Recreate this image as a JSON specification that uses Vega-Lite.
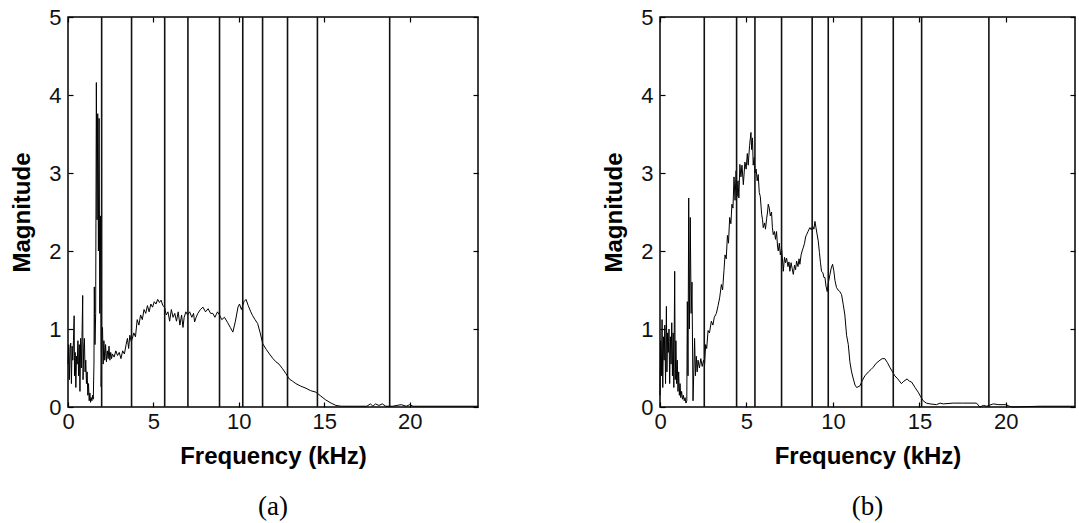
{
  "$schema": "https://vega.github.io/schema/vega-lite/v6.json",
  "background": "white",
  "padding": {"left": 10, "top": 5, "right": 4, "bottom": 0},
  "spacing": 121,
  "config": {
    "view": {"stroke": "black", "strokeWidth": 1.5},
    "axis": {
      "grid": false,
      "domain": false,
      "tickColor": "black",
      "tickWidth": 1.2,
      "tickSize": -5,
      "labelFont": "Liberation Sans",
      "labelFontSize": 22,
      "labelColor": "#111",
      "labelFlush": false,
      "labelOverlap": false,
      "titleFont": "Liberation Sans",
      "titleFontSize": 24,
      "titleFontWeight": "bold",
      "titleColor": "black"
    },
    "title": {"font": "Liberation Serif", "fontSize": 27, "fontWeight": "normal", "color": "black", "orient": "bottom", "offset": 26}
  },
  "datasets": {
    "specA": [
      {"f":0.00,"m":0.55},{"f":0.04,"m":0.80},{"f":0.08,"m":0.35},{"f":0.12,"m":0.75},{"f":0.16,"m":0.82},{"f":0.20,"m":0.30},{"f":0.24,"m":0.78},{"f":0.28,"m":0.60},{"f":0.32,"m":0.85},{"f":0.36,"m":1.17},{"f":0.38,"m":0.40},{"f":0.42,"m":0.70},{"f":0.46,"m":0.25},{"f":0.50,"m":0.65},{"f":0.54,"m":0.55},{"f":0.58,"m":0.85},{"f":0.62,"m":0.40},{"f":0.66,"m":0.80},{"f":0.70,"m":0.20},{"f":0.74,"m":0.88},{"f":0.78,"m":0.50},{"f":0.82,"m":0.90},{"f":0.86,"m":1.43},{"f":0.88,"m":0.35},{"f":0.92,"m":0.75},{"f":0.96,"m":0.88},{"f":1.00,"m":0.45},{"f":1.04,"m":0.60},{"f":1.08,"m":0.30},{"f":1.12,"m":0.45},{"f":1.16,"m":0.15},{"f":1.20,"m":0.30},{"f":1.24,"m":0.08},{"f":1.28,"m":0.18},{"f":1.32,"m":0.06},{"f":1.36,"m":0.12},{"f":1.40,"m":0.08},{"f":1.44,"m":0.15},{"f":1.48,"m":0.10},{"f":1.52,"m":0.55},{"f":1.54,"m":1.54},{"f":1.58,"m":0.80},{"f":1.62,"m":1.20},{"f":1.66,"m":4.16},{"f":1.70,"m":2.40},{"f":1.74,"m":3.76},{"f":1.78,"m":2.00},{"f":1.82,"m":3.70},{"f":1.86,"m":1.20},{"f":1.90,"m":2.45},{"f":1.94,"m":0.26},{"f":1.98,"m":0.90},{"f":2.02,"m":1.02},{"f":2.06,"m":0.55},{"f":2.10,"m":0.85},{"f":2.15,"m":0.60},{"f":2.20,"m":0.80},{"f":2.25,"m":0.58},{"f":2.30,"m":0.72},{"f":2.35,"m":0.62},{"f":2.40,"m":0.78},{"f":2.45,"m":0.60},{"f":2.50,"m":0.70},{"f":2.55,"m":0.62},{"f":2.60,"m":0.68},{"f":2.70,"m":0.64},{"f":2.80,"m":0.72},{"f":2.90,"m":0.66},{"f":3.00,"m":0.70},{"f":3.10,"m":0.62},{"f":3.20,"m":0.72},{"f":3.30,"m":0.68},{"f":3.40,"m":0.80},{"f":3.48,"m":0.88},{"f":3.55,"m":0.75},{"f":3.62,"m":0.92},{"f":3.70,"m":0.84},{"f":3.77,"m":0.88},{"f":3.85,"m":0.95},{"f":3.95,"m":0.90},{"f":4.05,"m":1.12},{"f":4.15,"m":1.05},{"f":4.25,"m":1.18},{"f":4.35,"m":1.12},{"f":4.45,"m":1.25},{"f":4.55,"m":1.20},{"f":4.65,"m":1.30},{"f":4.75,"m":1.22},{"f":4.85,"m":1.32},{"f":4.95,"m":1.28},{"f":5.05,"m":1.35},{"f":5.15,"m":1.32},{"f":5.25,"m":1.38},{"f":5.35,"m":1.34},{"f":5.45,"m":1.37},{"f":5.55,"m":1.30},{"f":5.65,"m":1.28},{"f":5.75,"m":1.18},{"f":5.85,"m":1.22},{"f":5.95,"m":1.10},{"f":6.05,"m":1.25},{"f":6.15,"m":1.15},{"f":6.25,"m":1.20},{"f":6.35,"m":1.10},{"f":6.45,"m":1.22},{"f":6.55,"m":1.05},{"f":6.65,"m":1.18},{"f":6.73,"m":1.02},{"f":6.80,"m":1.15},{"f":6.90,"m":1.22},{"f":7.00,"m":1.18},{"f":7.12,"m":1.22},{"f":7.25,"m":1.15},{"f":7.35,"m":1.20},{"f":7.41,"m":1.09},{"f":7.50,"m":1.15},{"f":7.60,"m":1.20},{"f":7.75,"m":1.25},{"f":7.90,"m":1.28},{"f":8.05,"m":1.22},{"f":8.20,"m":1.26},{"f":8.35,"m":1.20},{"f":8.48,"m":1.20},{"f":8.60,"m":1.15},{"f":8.75,"m":1.22},{"f":8.87,"m":1.18},{"f":9.00,"m":1.12},{"f":9.16,"m":1.15},{"f":9.35,"m":1.08},{"f":9.50,"m":1.02},{"f":9.65,"m":0.96},{"f":9.80,"m":1.10},{"f":9.95,"m":1.28},{"f":10.04,"m":1.32},{"f":10.15,"m":1.25},{"f":10.30,"m":1.35},{"f":10.42,"m":1.38},{"f":10.55,"m":1.30},{"f":10.70,"m":1.22},{"f":10.81,"m":1.17},{"f":10.95,"m":1.12},{"f":11.10,"m":1.07},{"f":11.25,"m":0.95},{"f":11.40,"m":0.81},{"f":11.60,"m":0.74},{"f":11.79,"m":0.68},{"f":12.00,"m":0.62},{"f":12.17,"m":0.58},{"f":12.35,"m":0.55},{"f":12.56,"m":0.49},{"f":12.75,"m":0.43},{"f":12.95,"m":0.36},{"f":13.15,"m":0.33},{"f":13.34,"m":0.30},{"f":13.60,"m":0.27},{"f":13.93,"m":0.24},{"f":14.20,"m":0.21},{"f":14.51,"m":0.19},{"f":14.80,"m":0.14},{"f":15.09,"m":0.09},{"f":15.40,"m":0.05},{"f":15.68,"m":0.02},{"f":16.00,"m":0.01},{"f":16.45,"m":0.01},{"f":17.00,"m":0.01},{"f":17.50,"m":0.01},{"f":17.70,"m":0.04},{"f":17.85,"m":0.01},{"f":18.00,"m":0.04},{"f":18.20,"m":0.02},{"f":18.40,"m":0.04},{"f":18.60,"m":0.01},{"f":19.00,"m":0.01},{"f":19.50,"m":0.03},{"f":19.80,"m":0.01},{"f":20.00,"m":0.03},{"f":20.20,"m":0.01},{"f":22.00,"m":0.01},{"f":24.00,"m":0.01}
    ],
    "specB": [
      {"f":0.00,"m":0.15},{"f":0.04,"m":0.85},{"f":0.08,"m":0.40},{"f":0.12,"m":1.12},{"f":0.16,"m":0.25},{"f":0.20,"m":0.90},{"f":0.24,"m":0.60},{"f":0.28,"m":1.05},{"f":0.32,"m":0.30},{"f":0.37,"m":1.29},{"f":0.40,"m":0.45},{"f":0.44,"m":0.95},{"f":0.48,"m":0.70},{"f":0.52,"m":1.00},{"f":0.56,"m":0.30},{"f":0.60,"m":0.90},{"f":0.64,"m":0.55},{"f":0.68,"m":1.08},{"f":0.72,"m":0.40},{"f":0.76,"m":0.95},{"f":0.80,"m":0.25},{"f":0.85,"m":1.74},{"f":0.88,"m":0.35},{"f":0.92,"m":0.85},{"f":0.96,"m":0.30},{"f":1.00,"m":0.60},{"f":1.04,"m":0.20},{"f":1.08,"m":0.45},{"f":1.12,"m":0.15},{"f":1.16,"m":0.30},{"f":1.20,"m":0.12},{"f":1.25,"m":0.20},{"f":1.30,"m":0.10},{"f":1.35,"m":0.15},{"f":1.40,"m":0.08},{"f":1.45,"m":0.12},{"f":1.50,"m":0.05},{"f":1.55,"m":0.08},{"f":1.58,"m":1.35},{"f":1.62,"m":0.40},{"f":1.66,"m":2.68},{"f":1.70,"m":1.00},{"f":1.75,"m":2.43},{"f":1.80,"m":1.20},{"f":1.85,"m":1.60},{"f":1.91,"m":0.08},{"f":1.96,"m":0.50},{"f":2.00,"m":0.88},{"f":2.05,"m":0.40},{"f":2.10,"m":0.65},{"f":2.15,"m":0.45},{"f":2.20,"m":0.60},{"f":2.28,"m":0.50},{"f":2.36,"m":0.62},{"f":2.44,"m":0.52},{"f":2.52,"m":0.60},{"f":2.58,"m":0.55},{"f":2.64,"m":0.80},{"f":2.70,"m":0.75},{"f":2.78,"m":0.98},{"f":2.86,"m":0.95},{"f":2.97,"m":1.10},{"f":3.06,"m":1.05},{"f":3.14,"m":1.15},{"f":3.26,"m":1.20},{"f":3.36,"m":1.30},{"f":3.45,"m":1.40},{"f":3.55,"m":1.57},{"f":3.62,"m":1.50},{"f":3.70,"m":1.75},{"f":3.76,"m":1.95},{"f":3.83,"m":1.90},{"f":3.90,"m":2.20},{"f":3.96,"m":2.10},{"f":4.03,"m":2.43},{"f":4.10,"m":2.35},{"f":4.16,"m":2.60},{"f":4.22,"m":2.55},{"f":4.28,"m":2.95},{"f":4.34,"m":2.65},{"f":4.40,"m":3.03},{"f":4.46,"m":2.70},{"f":4.51,"m":2.90},{"f":4.56,"m":2.68},{"f":4.62,"m":3.11},{"f":4.68,"m":2.95},{"f":4.74,"m":3.10},{"f":4.82,"m":2.85},{"f":4.91,"m":3.14},{"f":4.98,"m":3.05},{"f":5.05,"m":3.25},{"f":5.10,"m":3.10},{"f":5.18,"m":3.35},{"f":5.26,"m":3.52},{"f":5.30,"m":3.30},{"f":5.35,"m":3.45},{"f":5.39,"m":3.10},{"f":5.45,"m":3.20},{"f":5.49,"m":3.00},{"f":5.56,"m":3.05},{"f":5.62,"m":2.90},{"f":5.68,"m":2.98},{"f":5.74,"m":2.75},{"f":5.80,"m":2.70},{"f":5.88,"m":2.47},{"f":5.93,"m":2.40},{"f":5.97,"m":2.30},{"f":6.05,"m":2.36},{"f":6.10,"m":2.28},{"f":6.17,"m":2.42},{"f":6.22,"m":2.50},{"f":6.26,"m":2.60},{"f":6.32,"m":2.55},{"f":6.38,"m":2.45},{"f":6.45,"m":2.50},{"f":6.50,"m":2.30},{"f":6.55,"m":2.21},{"f":6.62,"m":2.25},{"f":6.68,"m":2.15},{"f":6.74,"m":2.25},{"f":6.80,"m":2.05},{"f":6.84,"m":2.00},{"f":6.90,"m":2.10},{"f":6.96,"m":1.95},{"f":7.03,"m":2.03},{"f":7.08,"m":1.90},{"f":7.13,"m":1.74},{"f":7.20,"m":1.92},{"f":7.26,"m":1.85},{"f":7.32,"m":1.91},{"f":7.40,"m":1.80},{"f":7.46,"m":1.86},{"f":7.51,"m":1.74},{"f":7.58,"m":1.85},{"f":7.64,"m":1.78},{"f":7.71,"m":1.70},{"f":7.78,"m":1.82},{"f":7.84,"m":1.76},{"f":7.90,"m":1.87},{"f":7.98,"m":1.80},{"f":8.04,"m":1.90},{"f":8.09,"m":1.83},{"f":8.16,"m":1.95},{"f":8.22,"m":2.00},{"f":8.28,"m":2.04},{"f":8.36,"m":2.10},{"f":8.42,"m":2.18},{"f":8.48,"m":2.21},{"f":8.56,"m":2.25},{"f":8.62,"m":2.28},{"f":8.67,"m":2.30},{"f":8.75,"m":2.27},{"f":8.82,"m":2.32},{"f":8.90,"m":2.28},{"f":8.96,"m":2.38},{"f":9.02,"m":2.30},{"f":9.08,"m":2.22},{"f":9.15,"m":2.13},{"f":9.22,"m":1.98},{"f":9.28,"m":1.85},{"f":9.34,"m":1.74},{"f":9.42,"m":1.72},{"f":9.48,"m":1.66},{"f":9.54,"m":1.66},{"f":9.60,"m":1.55},{"f":9.67,"m":1.48},{"f":9.74,"m":1.60},{"f":9.83,"m":1.70},{"f":9.90,"m":1.78},{"f":9.98,"m":1.83},{"f":10.05,"m":1.75},{"f":10.12,"m":1.62},{"f":10.21,"m":1.53},{"f":10.30,"m":1.50},{"f":10.40,"m":1.48},{"f":10.50,"m":1.44},{"f":10.60,"m":1.31},{"f":10.69,"m":1.18},{"f":10.79,"m":0.92},{"f":10.89,"m":0.80},{"f":10.98,"m":0.58},{"f":11.08,"m":0.45},{"f":11.18,"m":0.36},{"f":11.28,"m":0.28},{"f":11.37,"m":0.25},{"f":11.56,"m":0.27},{"f":11.70,"m":0.34},{"f":11.85,"m":0.40},{"f":12.05,"m":0.45},{"f":12.20,"m":0.48},{"f":12.33,"m":0.51},{"f":12.50,"m":0.56},{"f":12.72,"m":0.60},{"f":12.85,"m":0.62},{"f":13.00,"m":0.62},{"f":13.15,"m":0.57},{"f":13.29,"m":0.51},{"f":13.45,"m":0.45},{"f":13.58,"m":0.40},{"f":13.75,"m":0.36},{"f":13.96,"m":0.30},{"f":14.10,"m":0.33},{"f":14.29,"m":0.36},{"f":14.42,"m":0.33},{"f":14.55,"m":0.32},{"f":14.75,"m":0.25},{"f":14.93,"m":0.19},{"f":15.08,"m":0.13},{"f":15.22,"m":0.08},{"f":15.40,"m":0.05},{"f":15.61,"m":0.04},{"f":15.99,"m":0.03},{"f":16.20,"m":0.05},{"f":16.38,"m":0.04},{"f":16.96,"m":0.05},{"f":17.50,"m":0.05},{"f":18.30,"m":0.05},{"f":18.50,"m":0.00},{"f":18.70,"m":0.02},{"f":18.90,"m":0.01},{"f":19.27,"m":0.04},{"f":19.60,"m":0.03},{"f":20.00,"m":0.03},{"f":20.20,"m":0.01},{"f":20.40,"m":0.00},{"f":22.00,"m":0.01},{"f":23.70,"m":0.01},{"f":24.00,"m":0.01}
    ],
    "linesA": [
      {"f":1.97},{"f":3.72},{"f":5.66},{"f":7.02},{"f":8.87},{"f":10.23},{"f":11.39},{"f":12.85},{"f":14.60},{"f":18.83}
    ],
    "linesB": [
      {"f":2.56},{"f":4.43},{"f":5.49},{"f":7.03},{"f":8.80},{"f":9.73},{"f":11.66},{"f":13.49},{"f":15.13},{"f":19.02}
    ]
  },
  "hconcat": [
    {
      "width": 410,
      "height": 390,
      "title": {"text": "(a)"},
      "layer": [
        {
          "data": {"name": "specA"},
          "mark": {"type": "line", "color": "black", "strokeWidth": 1},
          "encoding": {
            "x": {"field": "f", "type": "quantitative", "scale": {"domain": [0, 24], "nice": false, "zero": false},
                  "axis": {"orient": "bottom", "values": [0, 5, 10, 15, 20], "labelPadding": 9, "title": "Frequency (kHz)", "titlePadding": 12}},
            "y": {"field": "m", "type": "quantitative", "scale": {"domain": [0, 5], "nice": false},
                  "axis": {"orient": "left", "values": [0, 1, 2, 3, 4, 5], "labelPadding": 12, "title": "Magnitude", "titlePadding": 14}}
          }
        },
        {
          "data": {"name": "linesA"},
          "mark": {"type": "rule", "color": "#111", "strokeWidth": 1.6},
          "encoding": {
            "x": {"field": "f", "type": "quantitative", "axis": {"orient": "top", "values": [0, 5, 10, 15, 20], "labels": false, "title": null}},
            "y": {"datum": 0, "type": "quantitative", "axis": {"orient": "right", "values": [0, 1, 2, 3, 4, 5], "labels": false, "title": null}},
            "y2": {"datum": 5}
          }
        }
      ],
      "resolve": {"axis": {"x": "independent", "y": "independent"}}
    },
    {
      "width": 415,
      "height": 390,
      "title": {"text": "(b)"},
      "layer": [
        {
          "data": {"name": "specB"},
          "mark": {"type": "line", "color": "black", "strokeWidth": 1},
          "encoding": {
            "x": {"field": "f", "type": "quantitative", "scale": {"domain": [0, 24], "nice": false, "zero": false},
                  "axis": {"orient": "bottom", "values": [0, 5, 10, 15, 20], "labelPadding": 9, "title": "Frequency (kHz)", "titlePadding": 12}},
            "y": {"field": "m", "type": "quantitative", "scale": {"domain": [0, 5], "nice": false},
                  "axis": {"orient": "left", "values": [0, 1, 2, 3, 4, 5], "labelPadding": 12, "title": "Magnitude", "titlePadding": 14}}
          }
        },
        {
          "data": {"name": "linesB"},
          "mark": {"type": "rule", "color": "#111", "strokeWidth": 1.6},
          "encoding": {
            "x": {"field": "f", "type": "quantitative", "axis": {"orient": "top", "values": [0, 5, 10, 15, 20], "labels": false, "title": null}},
            "y": {"datum": 0, "type": "quantitative", "axis": {"orient": "right", "values": [0, 1, 2, 3, 4, 5], "labels": false, "title": null}},
            "y2": {"datum": 5}
          }
        }
      ],
      "resolve": {"axis": {"x": "independent", "y": "independent"}}
    }
  ]
}
